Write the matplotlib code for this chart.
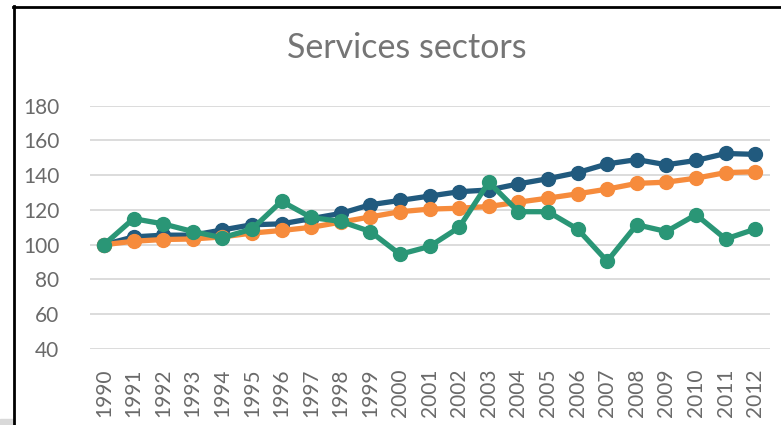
import matplotlib
matplotlib.use("Agg")
import matplotlib.pyplot as plt
from matplotlib.lines import Line2D
from matplotlib.patches import Rectangle

years = [str(y) for y in range(1990, 2013)]
series_blue = [100, 104.5, 105.5, 105.5, 108.5, 111.5, 112, 115, 118, 123, 125.5, 128, 130.5, 131.5, 135, 138, 141.5, 146.5, 149, 146, 148.5, 152.5, 152]
series_orange = [100, 102, 103, 103.3, 104.5, 106.7, 108.2, 110, 113, 116, 119, 120.5, 121, 122, 124.5, 126.8, 129.3, 132, 135.3, 136, 138.3, 141.5, 142]
series_green = [100, 115, 112, 107.6, 104, 109, 125, 115.7, 113.4, 107.6, 94.5, 99, 110, 136, 119, 119, 109, 90.5, 111.5, 107.6, 117.3, 103.3, 109]
yticks = [40, 60, 80, 100, 120, 140, 160, 180]

plt.rcParams['font.family'] = ['Lato', 'DejaVu Sans']
W, H = 781, 425
fig = plt.figure(figsize=(W / 100, H / 100), dpi=100)

ax = fig.add_axes([90 / W, 1 - 349 / H, 680 / W, (349 - 105.7) / H])
x = list(range(len(years)))
colors = ['#215A7E', '#F68B3C', '#2A9676']
for s, c in zip([series_blue, series_orange, series_green], colors):
    ax.plot(x, s, color=c, lw=3.8, marker='o', markersize=10, solid_capstyle='round', zorder=3)

ax.set_xlim(-0.47, len(years) - 0.5)
ax.set_ylim(40, 180)
ax.set_yticks(yticks)
ax.set_yticklabels([str(v) for v in yticks])
ax.set_xticks(x)
ax.set_xticklabels(years, rotation=90, va='top')
ax.grid(axis='y', color='#D9D9D9', lw=1.3, zorder=0)
ax.set_axisbelow(True)
for sp in ax.spines.values():
    sp.set_visible(False)
ax.tick_params(axis='both', length=0, colors='#6A6A6A', labelsize=15)
ax.tick_params(axis='y', pad=22)
ax.tick_params(axis='x', pad=14)

fig.text(406.5 / W, 1 - 48 / H, 'Services sectors', ha='center', va='center',
         fontsize=24.5, color='#757575')

# outer frame
fig.add_artist(Line2D([14 / W, 14 / W], [0, 1 - 6 / H], color='black', lw=2, transform=fig.transFigure))
fig.add_artist(Line2D([13 / W, 1], [1 - 6.5 / H, 1 - 6.5 / H], color='black', lw=2, transform=fig.transFigure))
fig.add_artist(Rectangle((0, 0), 13 / W, 6 / H, color='#D9D9D9', transform=fig.transFigure))

fig.savefig('out.png', dpi=100)
